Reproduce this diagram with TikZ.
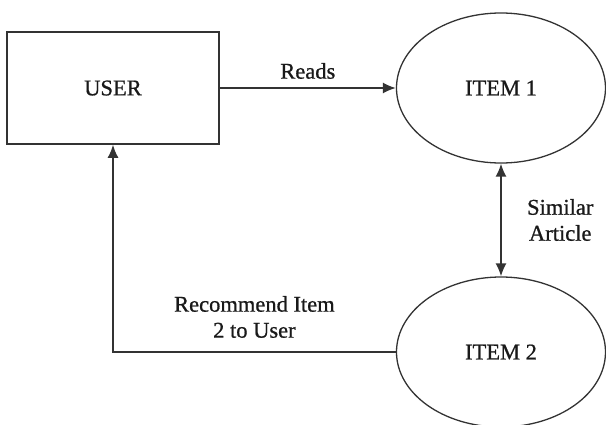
\documentclass[tikz,border=0pt]{standalone}
\usepackage{fontspec}
\setmainfont{Liberation Serif}[FakeBold=0.8]
\usetikzlibrary{positioning, shapes.geometric, arrows.meta}
\tikzset{>={Latex[length=13pt,width=11pt]}}
\tikzset{
  entity/.style = {draw=black!80, line width=1.6pt, rectangle,
    minimum width=212pt, minimum height=112pt},
  item/.style = {draw=black!80, line width=1.3pt, ellipse,
    minimum width=209pt, minimum height=150pt},
  flow/.style = {draw=black!80, line width=1.6pt},
  lbl/.style = {align=center}
}

\begin{document}
\begin{tikzpicture}[x=1pt, y=-1pt, font=\fontsize{22.5}{26}\selectfont,
  text=black!90]
\useasboundingbox (0,0) rectangle (606,424);
\node[entity] (user) at (113,88) {USER};
\node[item] (item1) at (501,88) {ITEM 1};
\node[item] (item2) at (501,352) {ITEM 2};
\draw[flow,->] (user.east) -- (item1.west) node[lbl, midway, above=5pt] {Reads};
\draw[flow,<->] (item1.south) -- (item2.north)
  node[lbl, midway, right=22pt] {Similar\\Article};
\draw[flow,->] (item2.west) -| (user.south)
  node[lbl, pos=0.25, above=10pt] {Recommend Item\\2 to User};
\end{tikzpicture}
\end{document}
